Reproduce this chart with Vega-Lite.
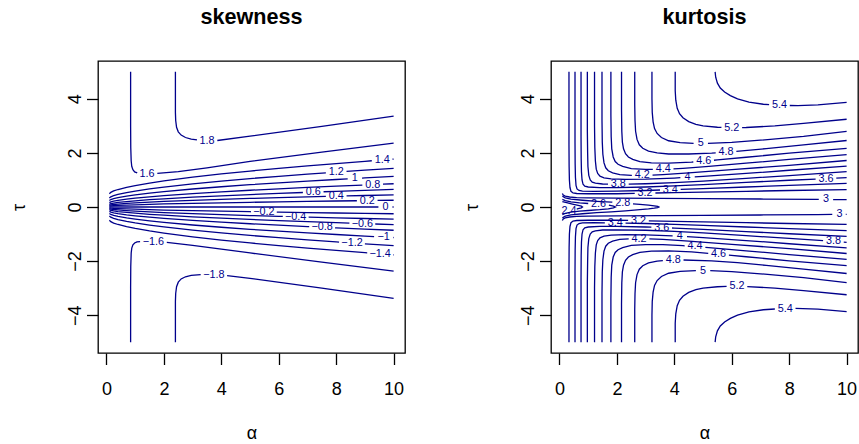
{
"$schema": "https://vega.github.io/schema/vega-lite/v6.json",
"background": "white",
"padding": {"left": 9, "top": 6, "right": 0, "bottom": 10},
"spacing": 146,
"bounds": "flush",
"config": {
"view": {"stroke": "black", "strokeWidth": 1.3},
"font": "Liberation Sans",
"axis": {"grid": false, "domain": false, "tickColor": "black", "tickSize": 11.5, "tickWidth": 1.3, "labelColor": "black", "labelFont": "Liberation Sans", "labelFontSize": 18, "titleFont": "Liberation Sans", "titleFontSize": 18, "titleFontWeight": "normal", "titleColor": "black", "labelOverlap": false, "labelFlush": false},
"axisX": {"labelPadding": 16, "titleY": 85, "titleBaseline": "alphabetic"},
"axisY": {"labelAngle": -90, "labelAlign": "center", "labelBaseline": "alphabetic", "labelPadding": 6, "titleAngle": -90, "titleX": -73.6, "titleBaseline": "alphabetic"},
"title": {"font": "Liberation Sans", "fontSize": 21.6, "fontWeight": "bold", "color": "black", "anchor": "middle", "frame": "group", "baseline": "alphabetic", "offset": 32.7}
},
"datasets": {
"sl": [
{"g":"p18a","a":2.4,"t":5},{"g":"p18a","a":2.4,"t":3.5},{"g":"p18a","a":2.41,"t":3.2},{"g":"p18a","a":2.44,"t":2.95},{"g":"p18a","a":2.5,"t":2.78},{"g":"p18a","a":2.6,"t":2.66},{"g":"p18a","a":2.75,"t":2.57},{"g":"p18a","a":2.95,"t":2.51},{"g":"p18a","a":3.15,"t":2.48},
{"g":"p18b","a":3.86,"t":2.46},{"g":"p18b","a":5,"t":2.62},{"g":"p18b","a":7.5,"t":2.98},{"g":"p18b","a":10,"t":3.36},
{"g":"n18a","a":2.4,"t":-5},{"g":"n18a","a":2.4,"t":-3.5},{"g":"n18a","a":2.41,"t":-3.2},{"g":"n18a","a":2.44,"t":-2.95},{"g":"n18a","a":2.5,"t":-2.78},{"g":"n18a","a":2.6,"t":-2.66},{"g":"n18a","a":2.75,"t":-2.58},{"g":"n18a","a":2.95,"t":-2.53},{"g":"n18a","a":3.28,"t":-2.5},
{"g":"n18b","a":4.2,"t":-2.54},{"g":"n18b","a":5,"t":-2.64},{"g":"n18b","a":7.5,"t":-3.0},{"g":"n18b","a":10,"t":-3.38},
{"g":"p16a","a":0.84,"t":5},{"g":"p16a","a":0.84,"t":3},{"g":"p16a","a":0.845,"t":2.2},{"g":"p16a","a":0.86,"t":1.7},{"g":"p16a","a":0.88,"t":1.5},{"g":"p16a","a":0.92,"t":1.38},{"g":"p16a","a":0.98,"t":1.3},{"g":"p16a","a":1.07,"t":1.26},
{"g":"p16b","a":1.77,"t":1.24},{"g":"p16b","a":2.5,"t":1.31},{"g":"p16b","a":3.5,"t":1.45},{"g":"p16b","a":5,"t":1.69},{"g":"p16b","a":7.5,"t":2.03},{"g":"p16b","a":10,"t":2.36},
{"g":"n16a","a":0.84,"t":-5},{"g":"n16a","a":0.84,"t":-3},{"g":"n16a","a":0.845,"t":-2.2},{"g":"n16a","a":0.86,"t":-1.7},{"g":"n16a","a":0.88,"t":-1.52},{"g":"n16a","a":0.92,"t":-1.4},{"g":"n16a","a":0.98,"t":-1.33},{"g":"n16a","a":1.06,"t":-1.29},{"g":"n16a","a":1.17,"t":-1.28},
{"g":"n16b","a":2.1,"t":-1.31},{"g":"n16b","a":3,"t":-1.42},{"g":"n16b","a":4,"t":-1.56},{"g":"n16b","a":5,"t":-1.7},{"g":"n16b","a":7.5,"t":-2.04},{"g":"n16b","a":10,"t":-2.37},
{"g":"p14a","a":0.1,"t":0.49},{"g":"p14a","a":0.15,"t":0.544},{"g":"p14a","a":0.25,"t":0.594},{"g":"p14a","a":0.4,"t":0.647},{"g":"p14a","a":0.7,"t":0.728},{"g":"p14a","a":1,"t":0.793},{"g":"p14a","a":1.5,"t":0.886},{"g":"p14a","a":2,"t":0.965},{"g":"p14a","a":3,"t":1.103},{"g":"p14a","a":4,"t":1.222},{"g":"p14a","a":5,"t":1.33},{"g":"p14a","a":6,"t":1.428},{"g":"p14a","a":7,"t":1.52},{"g":"p14a","a":8,"t":1.607},{"g":"p14a","a":9,"t":1.691},{"g":"p14a","a":9.24,"t":1.711},
{"g":"p14b","a":9.96,"t":1.767},{"g":"p14b","a":10,"t":1.77},
{"g":"n14a","a":0.1,"t":-0.49},{"g":"n14a","a":0.15,"t":-0.544},{"g":"n14a","a":0.25,"t":-0.594},{"g":"n14a","a":0.4,"t":-0.647},{"g":"n14a","a":0.7,"t":-0.728},{"g":"n14a","a":1,"t":-0.793},{"g":"n14a","a":1.5,"t":-0.886},{"g":"n14a","a":2,"t":-0.965},{"g":"n14a","a":3,"t":-1.103},{"g":"n14a","a":4,"t":-1.222},{"g":"n14a","a":5,"t":-1.33},{"g":"n14a","a":6,"t":-1.428},{"g":"n14a","a":7,"t":-1.52},{"g":"n14a","a":8,"t":-1.607},{"g":"n14a","a":9,"t":-1.691},{"g":"n14a","a":9.08,"t":-1.697},
{"g":"n14b","a":9.98,"t":-1.769},{"g":"n14b","a":10,"t":-1.77},
{"g":"p12a","a":0.1,"t":0.33},{"g":"p12a","a":0.15,"t":0.376},{"g":"p12a","a":0.25,"t":0.419},{"g":"p12a","a":0.4,"t":0.465},{"g":"p12a","a":0.7,"t":0.535},{"g":"p12a","a":1,"t":0.591},{"g":"p12a","a":1.5,"t":0.67},{"g":"p12a","a":2,"t":0.738},{"g":"p12a","a":3,"t":0.857},{"g":"p12a","a":4,"t":0.959},{"g":"p12a","a":5,"t":1.052},{"g":"p12a","a":6,"t":1.136},{"g":"p12a","a":7,"t":1.216},{"g":"p12a","a":7.64,"t":1.264},
{"g":"p12b","a":8.36,"t":1.317},{"g":"p12b","a":9,"t":1.362},{"g":"p12b","a":10,"t":1.43},
{"g":"n12a","a":0.1,"t":-0.33},{"g":"n12a","a":0.15,"t":-0.376},{"g":"n12a","a":0.25,"t":-0.419},{"g":"n12a","a":0.4,"t":-0.465},{"g":"n12a","a":0.7,"t":-0.535},{"g":"n12a","a":1,"t":-0.591},{"g":"n12a","a":1.5,"t":-0.67},{"g":"n12a","a":2,"t":-0.738},{"g":"n12a","a":3,"t":-0.857},{"g":"n12a","a":4,"t":-0.959},{"g":"n12a","a":5,"t":-1.052},{"g":"n12a","a":6,"t":-1.136},{"g":"n12a","a":7,"t":-1.216},{"g":"n12a","a":8,"t":-1.29},{"g":"n12a","a":8.1,"t":-1.298},
{"g":"n12b","a":9,"t":-1.362},{"g":"n12b","a":10,"t":-1.43},
{"g":"p10a","a":0.1,"t":0.24},{"g":"p10a","a":0.15,"t":0.277},{"g":"p10a","a":0.25,"t":0.312},{"g":"p10a","a":0.4,"t":0.349},{"g":"p10a","a":0.7,"t":0.406},{"g":"p10a","a":1,"t":0.451},{"g":"p10a","a":1.5,"t":0.515},{"g":"p10a","a":2,"t":0.57},{"g":"p10a","a":3,"t":0.666},{"g":"p10a","a":4,"t":0.749},{"g":"p10a","a":5,"t":0.824},{"g":"p10a","a":6,"t":0.892},{"g":"p10a","a":7,"t":0.956},{"g":"p10a","a":8,"t":1.017},{"g":"p10a","a":8.4,"t":1.041},
{"g":"p10b","a":8.9,"t":1.069},{"g":"p10b","a":9,"t":1.075},{"g":"p10b","a":10,"t":1.13},
{"g":"n10a","a":0.1,"t":-0.24},{"g":"n10a","a":0.15,"t":-0.277},{"g":"n10a","a":0.25,"t":-0.312},{"g":"n10a","a":0.4,"t":-0.349},{"g":"n10a","a":0.7,"t":-0.406},{"g":"n10a","a":1,"t":-0.451},{"g":"n10a","a":1.5,"t":-0.515},{"g":"n10a","a":2,"t":-0.57},{"g":"n10a","a":3,"t":-0.666},{"g":"n10a","a":4,"t":-0.749},{"g":"n10a","a":5,"t":-0.824},{"g":"n10a","a":6,"t":-0.892},{"g":"n10a","a":7,"t":-0.956},{"g":"n10a","a":8,"t":-1.017},{"g":"n10a","a":9,"t":-1.075},{"g":"n10a","a":9.32,"t":-1.093},
{"g":"n10b","a":9.98,"t":-1.128},{"g":"n10b","a":10,"t":-1.13},
{"g":"p08a","a":0.1,"t":0.16},{"g":"p08a","a":0.15,"t":0.189},{"g":"p08a","a":0.25,"t":0.217},{"g":"p08a","a":0.4,"t":0.246},{"g":"p08a","a":0.7,"t":0.29},{"g":"p08a","a":1,"t":0.326},{"g":"p08a","a":1.5,"t":0.376},{"g":"p08a","a":2,"t":0.42},{"g":"p08a","a":3,"t":0.495},{"g":"p08a","a":4,"t":0.56},{"g":"p08a","a":5,"t":0.619},{"g":"p08a","a":6,"t":0.673},{"g":"p08a","a":7,"t":0.724},{"g":"p08a","a":8,"t":0.771},{"g":"p08a","a":8.91,"t":0.812},
{"g":"p08b","a":9.63,"t":0.844},{"g":"p08b","a":10,"t":0.86},
{"g":"n08a","a":0.1,"t":-0.16},{"g":"n08a","a":0.15,"t":-0.189},{"g":"n08a","a":0.25,"t":-0.217},{"g":"n08a","a":0.4,"t":-0.246},{"g":"n08a","a":0.7,"t":-0.29},{"g":"n08a","a":1,"t":-0.326},{"g":"n08a","a":1.5,"t":-0.376},{"g":"n08a","a":2,"t":-0.42},{"g":"n08a","a":3,"t":-0.495},{"g":"n08a","a":4,"t":-0.56},{"g":"n08a","a":5,"t":-0.619},{"g":"n08a","a":6,"t":-0.673},{"g":"n08a","a":7,"t":-0.724},{"g":"n08a","a":7.06,"t":-0.726},
{"g":"n08b","a":7.96,"t":-0.77},{"g":"n08b","a":8,"t":-0.771},{"g":"n08b","a":9,"t":-0.817},{"g":"n08b","a":10,"t":-0.86},
{"g":"p06a","a":0.1,"t":0.1},{"g":"p06a","a":0.15,"t":0.123},{"g":"p06a","a":0.25,"t":0.145},{"g":"p06a","a":0.4,"t":0.168},{"g":"p06a","a":0.7,"t":0.202},{"g":"p06a","a":1,"t":0.23},{"g":"p06a","a":1.5,"t":0.27},{"g":"p06a","a":2,"t":0.304},{"g":"p06a","a":3,"t":0.363},{"g":"p06a","a":4,"t":0.415},{"g":"p06a","a":5,"t":0.461},{"g":"p06a","a":6,"t":0.503},{"g":"p06a","a":6.84,"t":0.537},
{"g":"p06b","a":7.56,"t":0.564},{"g":"p06b","a":8,"t":0.58},{"g":"p06b","a":9,"t":0.616},{"g":"p06b","a":10,"t":0.65},
{"g":"n06a","a":0.1,"t":-0.1},{"g":"n06a","a":0.15,"t":-0.123},{"g":"n06a","a":0.25,"t":-0.145},{"g":"n06a","a":0.4,"t":-0.168},{"g":"n06a","a":0.7,"t":-0.202},{"g":"n06a","a":1,"t":-0.23},{"g":"n06a","a":1.5,"t":-0.27},{"g":"n06a","a":2,"t":-0.304},{"g":"n06a","a":3,"t":-0.363},{"g":"n06a","a":4,"t":-0.415},{"g":"n06a","a":5,"t":-0.461},{"g":"n06a","a":6,"t":-0.503},{"g":"n06a","a":7,"t":-0.543},{"g":"n06a","a":8,"t":-0.58},{"g":"n06a","a":8.46,"t":-0.597},
{"g":"n06b","a":9.36,"t":-0.629},{"g":"n06b","a":10,"t":-0.65},
{"g":"p04a","a":0.1,"t":0.06},{"g":"p04a","a":0.15,"t":0.076},{"g":"p04a","a":0.25,"t":0.092},{"g":"p04a","a":0.4,"t":0.108},{"g":"p04a","a":0.7,"t":0.133},{"g":"p04a","a":1,"t":0.152},{"g":"p04a","a":1.5,"t":0.181},{"g":"p04a","a":2,"t":0.205},{"g":"p04a","a":3,"t":0.247},{"g":"p04a","a":4,"t":0.283},{"g":"p04a","a":5,"t":0.316},{"g":"p04a","a":6,"t":0.346},{"g":"p04a","a":7,"t":0.374},{"g":"p04a","a":7.64,"t":0.391},
{"g":"p04b","a":8.36,"t":0.41},{"g":"p04b","a":9,"t":0.426},{"g":"p04b","a":10,"t":0.45},
{"g":"n04a","a":0.1,"t":-0.06},{"g":"n04a","a":0.15,"t":-0.076},{"g":"n04a","a":0.25,"t":-0.092},{"g":"n04a","a":0.4,"t":-0.108},{"g":"n04a","a":0.7,"t":-0.133},{"g":"n04a","a":1,"t":-0.152},{"g":"n04a","a":1.5,"t":-0.181},{"g":"n04a","a":2,"t":-0.205},{"g":"n04a","a":3,"t":-0.247},{"g":"n04a","a":4,"t":-0.283},{"g":"n04a","a":5,"t":-0.316},{"g":"n04a","a":6,"t":-0.346},{"g":"n04a","a":6.14,"t":-0.35},
{"g":"n04b","a":7.04,"t":-0.375},{"g":"n04b","a":8,"t":-0.4},{"g":"n04b","a":9,"t":-0.426},{"g":"n04b","a":10,"t":-0.45},
{"g":"p02a","a":0.1,"t":0.03},{"g":"p02a","a":0.15,"t":0.039},{"g":"p02a","a":0.25,"t":0.048},{"g":"p02a","a":0.4,"t":0.057},{"g":"p02a","a":0.7,"t":0.071},{"g":"p02a","a":1,"t":0.082},{"g":"p02a","a":1.5,"t":0.098},{"g":"p02a","a":2,"t":0.112},{"g":"p02a","a":3,"t":0.135},{"g":"p02a","a":4,"t":0.156},{"g":"p02a","a":5,"t":0.174},{"g":"p02a","a":6,"t":0.191},{"g":"p02a","a":7,"t":0.207},{"g":"p02a","a":8,"t":0.222},{"g":"p02a","a":8.72,"t":0.232},
{"g":"p02b","a":9.44,"t":0.243},{"g":"p02b","a":10,"t":0.25},
{"g":"n02a","a":0.1,"t":-0.03},{"g":"n02a","a":0.15,"t":-0.039},{"g":"n02a","a":0.25,"t":-0.048},{"g":"n02a","a":0.4,"t":-0.057},{"g":"n02a","a":0.7,"t":-0.071},{"g":"n02a","a":1,"t":-0.082},{"g":"n02a","a":1.5,"t":-0.098},{"g":"n02a","a":2,"t":-0.112},{"g":"n02a","a":3,"t":-0.135},{"g":"n02a","a":4,"t":-0.156},{"g":"n02a","a":5,"t":-0.174},{"g":"n02a","a":5.03,"t":-0.175},
{"g":"n02b","a":5.93,"t":-0.19},{"g":"n02b","a":6,"t":-0.191},{"g":"n02b","a":7,"t":-0.207},{"g":"n02b","a":8,"t":-0.222},{"g":"n02b","a":9,"t":-0.236},{"g":"n02b","a":10,"t":-0.25},
{"g":"z0a","a":0.1,"t":0},{"g":"z0a","a":9.47,"t":0},
{"g":"z0b","a":9.96,"t":0},{"g":"z0b","a":10,"t":0}
],
"slab": [
{"l":"1.8","a":3.5,"t":2.45},{"l":"−1.8","a":3.74,"t":-2.51},
{"l":"1.6","a":1.41,"t":1.235},{"l":"−1.6","a":1.63,"t":-1.29},
{"l":"1.4","a":9.6,"t":1.739},{"l":"−1.4","a":9.53,"t":-1.735},
{"l":"1.2","a":8.0,"t":1.29},{"l":"−1.2","a":8.55,"t":-1.33},
{"l":"1","a":8.65,"t":1.055},{"l":"−1","a":9.65,"t":-1.111},
{"l":"0.8","a":9.27,"t":0.829},{"l":"−0.8","a":7.51,"t":-0.748},
{"l":"0.6","a":7.2,"t":0.55},{"l":"−0.6","a":8.91,"t":-0.613},
{"l":"0.4","a":8.0,"t":0.4},{"l":"−0.4","a":6.59,"t":-0.363},
{"l":"0.2","a":9.08,"t":0.237},{"l":"−0.2","a":5.48,"t":-0.182},
{"l":"0","a":9.72,"t":0}
],
"kl": [
{"g":"k54ta","a":5.42,"t":5},{"g":"k54ta","a":5.44,"t":4.8},{"g":"k54ta","a":5.5,"t":4.58},{"g":"k54ta","a":5.6,"t":4.4},{"g":"k54ta","a":5.75,"t":4.25},{"g":"k54ta","a":5.95,"t":4.12},{"g":"k54ta","a":6.2,"t":4.0},{"g":"k54ta","a":6.6,"t":3.88},{"g":"k54ta","a":7.1,"t":3.8},{"g":"k54ta","a":7.3,"t":3.787},
{"g":"k54tb","a":8.02,"t":3.755},{"g":"k54tb","a":8.3,"t":3.75},{"g":"k54tb","a":9,"t":3.78},{"g":"k54tb","a":10,"t":3.87},
{"g":"k54ba","a":5.42,"t":-5},{"g":"k54ba","a":5.44,"t":-4.8},{"g":"k54ba","a":5.5,"t":-4.58},{"g":"k54ba","a":5.6,"t":-4.4},{"g":"k54ba","a":5.75,"t":-4.25},{"g":"k54ba","a":5.95,"t":-4.12},{"g":"k54ba","a":6.2,"t":-4.0},{"g":"k54ba","a":6.6,"t":-3.88},{"g":"k54ba","a":7.1,"t":-3.8},{"g":"k54ba","a":7.5,"t":-3.773},
{"g":"k54bb","a":8.22,"t":-3.751},{"g":"k54bb","a":9,"t":-3.78},{"g":"k54bb","a":10,"t":-3.87},
{"g":"k52ta","a":4.03,"t":5},{"g":"k52ta","a":4.03,"t":4.3},{"g":"k52ta","a":4.05,"t":3.95},{"g":"k52ta","a":4.1,"t":3.65},{"g":"k52ta","a":4.18,"t":3.45},{"g":"k52ta","a":4.3,"t":3.3},{"g":"k52ta","a":4.5,"t":3.16},{"g":"k52ta","a":4.75,"t":3.06},{"g":"k52ta","a":5.0,"t":3.0},{"g":"k52ta","a":5.5,"t":2.95},{"g":"k52ta","a":5.64,"t":2.944},
{"g":"k52tb","a":6.36,"t":2.937},{"g":"k52tb","a":6.5,"t":2.94},{"g":"k52tb","a":7.5,"t":3.0},{"g":"k52tb","a":8.5,"t":3.09},{"g":"k52tb","a":10,"t":3.245},
{"g":"k52ba","a":4.03,"t":-5},{"g":"k52ba","a":4.03,"t":-4.3},{"g":"k52ba","a":4.05,"t":-3.95},{"g":"k52ba","a":4.1,"t":-3.65},{"g":"k52ba","a":4.18,"t":-3.45},{"g":"k52ba","a":4.3,"t":-3.3},{"g":"k52ba","a":4.5,"t":-3.16},{"g":"k52ba","a":4.75,"t":-3.06},{"g":"k52ba","a":5.0,"t":-3.0},{"g":"k52ba","a":5.5,"t":-2.95},{"g":"k52ba","a":5.82,"t":-2.937},
{"g":"k52bb","a":6.54,"t":-2.942},{"g":"k52bb","a":7.5,"t":-3.0},{"g":"k52bb","a":8.5,"t":-3.09},{"g":"k52bb","a":10,"t":-3.245},
{"g":"k50ta","a":3.22,"t":5},{"g":"k50ta","a":3.22,"t":4.0},{"g":"k50ta","a":3.23,"t":3.5},{"g":"k50ta","a":3.26,"t":3.15},{"g":"k50ta","a":3.31,"t":2.9},{"g":"k50ta","a":3.4,"t":2.72},{"g":"k50ta","a":3.55,"t":2.57},{"g":"k50ta","a":3.8,"t":2.45},{"g":"k50ta","a":4.2,"t":2.38},{"g":"k50ta","a":4.67,"t":2.352},
{"g":"k50tb","a":5.17,"t":2.35},{"g":"k50tb","a":6,"t":2.39},{"g":"k50tb","a":7,"t":2.47},{"g":"k50tb","a":8.5,"t":2.61},{"g":"k50tb","a":10,"t":2.795},
{"g":"k50ba","a":3.22,"t":-5},{"g":"k50ba","a":3.22,"t":-4.0},{"g":"k50ba","a":3.23,"t":-3.5},{"g":"k50ba","a":3.26,"t":-3.15},{"g":"k50ba","a":3.31,"t":-2.9},{"g":"k50ba","a":3.4,"t":-2.72},{"g":"k50ba","a":3.55,"t":-2.57},{"g":"k50ba","a":3.8,"t":-2.45},{"g":"k50ba","a":4.2,"t":-2.38},{"g":"k50ba","a":4.75,"t":-2.35},
{"g":"k50bb","a":5.25,"t":-2.352},{"g":"k50bb","a":6,"t":-2.39},{"g":"k50bb","a":7,"t":-2.47},{"g":"k50bb","a":8.5,"t":-2.61},{"g":"k50bb","a":10,"t":-2.795},
{"g":"k48ta","a":2.62,"t":5},{"g":"k48ta","a":2.62,"t":3.8},{"g":"k48ta","a":2.63,"t":3.2},{"g":"k48ta","a":2.65,"t":2.8},{"g":"k48ta","a":2.7,"t":2.5},{"g":"k48ta","a":2.78,"t":2.3},{"g":"k48ta","a":2.9,"t":2.17},{"g":"k48ta","a":3.1,"t":2.07},{"g":"k48ta","a":3.4,"t":2.0},{"g":"k48ta","a":3.8,"t":1.96},{"g":"k48ta","a":4.5,"t":1.96},{"g":"k48ta","a":5.3,"t":1.99},{"g":"k48ta","a":5.44,"t":2.0},
{"g":"k48tb","a":6.16,"t":2.057},{"g":"k48tb","a":7.2,"t":2.16},{"g":"k48tb","a":8.5,"t":2.3},{"g":"k48tb","a":10,"t":2.46},
{"g":"k48ba","a":2.62,"t":-5},{"g":"k48ba","a":2.62,"t":-3.8},{"g":"k48ba","a":2.63,"t":-3.2},{"g":"k48ba","a":2.65,"t":-2.8},{"g":"k48ba","a":2.7,"t":-2.5},{"g":"k48ba","a":2.78,"t":-2.3},{"g":"k48ba","a":2.9,"t":-2.17},{"g":"k48ba","a":3.1,"t":-2.07},{"g":"k48ba","a":3.4,"t":-2.0},{"g":"k48ba","a":3.6,"t":-1.98},
{"g":"k48bb","a":4.32,"t":-1.96},{"g":"k48bb","a":5.3,"t":-1.99},{"g":"k48bb","a":6.2,"t":-2.06},{"g":"k48bb","a":7.2,"t":-2.16},{"g":"k48bb","a":8.5,"t":-2.3},{"g":"k48bb","a":10,"t":-2.46},
{"g":"k46ta","a":2.16,"t":5},{"g":"k46ta","a":2.16,"t":3.6},{"g":"k46ta","a":2.17,"t":2.8},{"g":"k46ta","a":2.19,"t":2.4},{"g":"k46ta","a":2.23,"t":2.15},{"g":"k46ta","a":2.3,"t":1.97},{"g":"k46ta","a":2.4,"t":1.85},{"g":"k46ta","a":2.55,"t":1.76},{"g":"k46ta","a":2.8,"t":1.68},{"g":"k46ta","a":3.2,"t":1.63},{"g":"k46ta","a":3.8,"t":1.62},{"g":"k46ta","a":4.6,"t":1.66},{"g":"k46ta","a":4.66,"t":1.665},
{"g":"k46tb","a":5.38,"t":1.729},{"g":"k46tb","a":5.5,"t":1.74},{"g":"k46tb","a":6.5,"t":1.84},{"g":"k46tb","a":8,"t":1.99},{"g":"k46tb","a":10,"t":2.17},
{"g":"k46ba","a":2.16,"t":-5},{"g":"k46ba","a":2.16,"t":-3.6},{"g":"k46ba","a":2.17,"t":-2.8},{"g":"k46ba","a":2.19,"t":-2.4},{"g":"k46ba","a":2.23,"t":-2.15},{"g":"k46ba","a":2.3,"t":-1.97},{"g":"k46ba","a":2.4,"t":-1.85},{"g":"k46ba","a":2.55,"t":-1.76},{"g":"k46ba","a":2.8,"t":-1.68},{"g":"k46ba","a":3.2,"t":-1.63},{"g":"k46ba","a":3.8,"t":-1.62},{"g":"k46ba","a":4.6,"t":-1.66},{"g":"k46ba","a":5.18,"t":-1.712},
{"g":"k46bb","a":5.9,"t":-1.78},{"g":"k46bb","a":6.5,"t":-1.84},{"g":"k46bb","a":8,"t":-1.99},{"g":"k46bb","a":10,"t":-2.17},
{"g":"k44ta","a":1.79,"t":5},{"g":"k44ta","a":1.79,"t":3.4},{"g":"k44ta","a":1.8,"t":2.6},{"g":"k44ta","a":1.82,"t":2.15},{"g":"k44ta","a":1.87,"t":1.85},{"g":"k44ta","a":1.94,"t":1.68},{"g":"k44ta","a":2.04,"t":1.58},{"g":"k44ta","a":2.2,"t":1.5},{"g":"k44ta","a":2.5,"t":1.42},{"g":"k44ta","a":3.0,"t":1.39},{"g":"k44ta","a":3.25,"t":1.39},
{"g":"k44tb","a":3.97,"t":1.411},{"g":"k44tb","a":4.3,"t":1.43},{"g":"k44tb","a":5.2,"t":1.5},{"g":"k44tb","a":6.5,"t":1.62},{"g":"k44tb","a":8,"t":1.76},{"g":"k44tb","a":10,"t":1.94},
{"g":"k44ba","a":1.79,"t":-5},{"g":"k44ba","a":1.79,"t":-3.4},{"g":"k44ba","a":1.8,"t":-2.6},{"g":"k44ba","a":1.82,"t":-2.15},{"g":"k44ba","a":1.87,"t":-1.85},{"g":"k44ba","a":1.94,"t":-1.68},{"g":"k44ba","a":2.04,"t":-1.58},{"g":"k44ba","a":2.2,"t":-1.5},{"g":"k44ba","a":2.5,"t":-1.42},{"g":"k44ba","a":3.0,"t":-1.39},{"g":"k44ba","a":3.6,"t":-1.39},{"g":"k44ba","a":4.3,"t":-1.43},{"g":"k44ba","a":4.36,"t":-1.435},
{"g":"k44bb","a":5.08,"t":-1.49},{"g":"k44bb","a":5.2,"t":-1.5},{"g":"k44bb","a":6.5,"t":-1.62},{"g":"k44bb","a":8,"t":-1.76},{"g":"k44bb","a":10,"t":-1.94},
{"g":"k42ta","a":1.48,"t":5},{"g":"k42ta","a":1.48,"t":3.2},{"g":"k42ta","a":1.49,"t":2.4},{"g":"k42ta","a":1.51,"t":1.95},{"g":"k42ta","a":1.55,"t":1.63},{"g":"k42ta","a":1.61,"t":1.45},{"g":"k42ta","a":1.7,"t":1.34},{"g":"k42ta","a":1.85,"t":1.26},{"g":"k42ta","a":2.1,"t":1.2},{"g":"k42ta","a":2.5,"t":1.17},{"g":"k42ta","a":2.52,"t":1.17},
{"g":"k42tb","a":3.24,"t":1.182},{"g":"k42tb","a":3.6,"t":1.2},{"g":"k42tb","a":4.5,"t":1.26},{"g":"k42tb","a":6,"t":1.38},{"g":"k42tb","a":8,"t":1.54},{"g":"k42tb","a":10,"t":1.72},
{"g":"k42ba","a":1.48,"t":-5},{"g":"k42ba","a":1.48,"t":-3.2},{"g":"k42ba","a":1.49,"t":-2.4},{"g":"k42ba","a":1.51,"t":-1.95},{"g":"k42ba","a":1.55,"t":-1.63},{"g":"k42ba","a":1.61,"t":-1.45},{"g":"k42ba","a":1.7,"t":-1.34},{"g":"k42ba","a":1.85,"t":-1.26},{"g":"k42ba","a":2.1,"t":-1.2},{"g":"k42ba","a":2.41,"t":-1.177},
{"g":"k42bb","a":3.13,"t":-1.178},{"g":"k42bb","a":3.6,"t":-1.2},{"g":"k42bb","a":4.5,"t":-1.26},{"g":"k42bb","a":6,"t":-1.38},{"g":"k42bb","a":8,"t":-1.54},{"g":"k42bb","a":10,"t":-1.72},
{"g":"k40ta","a":1.22,"t":5},{"g":"k40ta","a":1.22,"t":3.0},{"g":"k40ta","a":1.23,"t":2.2},{"g":"k40ta","a":1.25,"t":1.7},{"g":"k40ta","a":1.28,"t":1.4},{"g":"k40ta","a":1.33,"t":1.24},{"g":"k40ta","a":1.41,"t":1.14},{"g":"k40ta","a":1.55,"t":1.08},{"g":"k40ta","a":1.8,"t":1.04},{"g":"k40ta","a":2.3,"t":1.02},{"g":"k40ta","a":3,"t":1.03},{"g":"k40ta","a":4,"t":1.07},{"g":"k40ta","a":4.21,"t":1.083},
{"g":"k40tb","a":4.71,"t":1.113},{"g":"k40tb","a":5,"t":1.13},{"g":"k40tb","a":6.5,"t":1.24},{"g":"k40tb","a":8,"t":1.36},{"g":"k40tb","a":10,"t":1.51},
{"g":"k40ba","a":1.22,"t":-5},{"g":"k40ba","a":1.22,"t":-3.0},{"g":"k40ba","a":1.23,"t":-2.2},{"g":"k40ba","a":1.25,"t":-1.7},{"g":"k40ba","a":1.28,"t":-1.4},{"g":"k40ba","a":1.33,"t":-1.24},{"g":"k40ba","a":1.41,"t":-1.14},{"g":"k40ba","a":1.55,"t":-1.08},{"g":"k40ba","a":1.8,"t":-1.04},{"g":"k40ba","a":2.3,"t":-1.02},{"g":"k40ba","a":3,"t":-1.03},{"g":"k40ba","a":3.94,"t":-1.068},
{"g":"k40bb","a":4.44,"t":-1.096},{"g":"k40bb","a":5,"t":-1.13},{"g":"k40bb","a":6.5,"t":-1.24},{"g":"k40bb","a":8,"t":-1.36},{"g":"k40bb","a":10,"t":-1.51},
{"g":"k38ta","a":0.97,"t":5},{"g":"k38ta","a":0.97,"t":2.8},{"g":"k38ta","a":0.98,"t":2.0},{"g":"k38ta","a":0.99,"t":1.5},{"g":"k38ta","a":1.02,"t":1.17},{"g":"k38ta","a":1.07,"t":1.0},{"g":"k38ta","a":1.14,"t":0.92},{"g":"k38ta","a":1.25,"t":0.88},{"g":"k38ta","a":1.5,"t":0.85},{"g":"k38ta","a":1.69,"t":0.846},
{"g":"k38tb","a":2.41,"t":0.848},{"g":"k38tb","a":3,"t":0.86},{"g":"k38tb","a":4,"t":0.9},{"g":"k38tb","a":5,"t":0.96},{"g":"k38tb","a":6.5,"t":1.06},{"g":"k38tb","a":8,"t":1.16},{"g":"k38tb","a":10,"t":1.305},
{"g":"k38ba","a":0.97,"t":-5},{"g":"k38ba","a":0.97,"t":-2.8},{"g":"k38ba","a":0.98,"t":-2.0},{"g":"k38ba","a":0.99,"t":-1.5},{"g":"k38ba","a":1.02,"t":-1.17},{"g":"k38ba","a":1.07,"t":-1.0},{"g":"k38ba","a":1.14,"t":-0.92},{"g":"k38ba","a":1.25,"t":-0.88},{"g":"k38ba","a":1.5,"t":-0.85},{"g":"k38ba","a":2,"t":-0.845},{"g":"k38ba","a":3,"t":-0.86},{"g":"k38ba","a":4,"t":-0.9},{"g":"k38ba","a":5,"t":-0.96},{"g":"k38ba","a":6.5,"t":-1.06},{"g":"k38ba","a":8,"t":-1.16},{"g":"k38ba","a":9.18,"t":-1.246},
{"g":"k38bb","a":9.9,"t":-1.298},{"g":"k38bb","a":10,"t":-1.305},
{"g":"k36ta","a":0.75,"t":5},{"g":"k36ta","a":0.75,"t":2.6},{"g":"k36ta","a":0.755,"t":1.8},{"g":"k36ta","a":0.765,"t":1.3},{"g":"k36ta","a":0.785,"t":1.0},{"g":"k36ta","a":0.82,"t":0.84},{"g":"k36ta","a":0.88,"t":0.77},{"g":"k36ta","a":1.0,"t":0.74},{"g":"k36ta","a":1.4,"t":0.72},{"g":"k36ta","a":2,"t":0.72},{"g":"k36ta","a":3,"t":0.74},{"g":"k36ta","a":4,"t":0.78},{"g":"k36ta","a":5,"t":0.83},{"g":"k36ta","a":6.5,"t":0.91},{"g":"k36ta","a":8,"t":0.99},{"g":"k36ta","a":8.92,"t":1.034},
{"g":"k36tb","a":9.64,"t":1.068},{"g":"k36tb","a":10,"t":1.085},
{"g":"k36ba","a":0.75,"t":-5},{"g":"k36ba","a":0.75,"t":-2.6},{"g":"k36ba","a":0.755,"t":-1.8},{"g":"k36ba","a":0.765,"t":-1.3},{"g":"k36ba","a":0.785,"t":-1.0},{"g":"k36ba","a":0.82,"t":-0.84},{"g":"k36ba","a":0.88,"t":-0.77},{"g":"k36ba","a":1.0,"t":-0.74},{"g":"k36ba","a":1.4,"t":-0.72},{"g":"k36ba","a":2,"t":-0.72},{"g":"k36ba","a":3,"t":-0.74},{"g":"k36ba","a":3.2,"t":-0.748},
{"g":"k36bb","a":3.92,"t":-0.777},{"g":"k36bb","a":4,"t":-0.78},{"g":"k36bb","a":5,"t":-0.83},{"g":"k36bb","a":6.5,"t":-0.91},{"g":"k36bb","a":8,"t":-0.99},{"g":"k36bb","a":10,"t":-1.085},
{"g":"k34ta","a":0.54,"t":5},{"g":"k34ta","a":0.54,"t":2.4},{"g":"k34ta","a":0.545,"t":1.6},{"g":"k34ta","a":0.555,"t":1.1},{"g":"k34ta","a":0.575,"t":0.8},{"g":"k34ta","a":0.61,"t":0.67},{"g":"k34ta","a":0.68,"t":0.61},{"g":"k34ta","a":0.8,"t":0.59},{"g":"k34ta","a":1.2,"t":0.58},{"g":"k34ta","a":2,"t":0.59},{"g":"k34ta","a":3,"t":0.61},{"g":"k34ta","a":3.5,"t":0.628},
{"g":"k34tb","a":4.22,"t":0.653},{"g":"k34tb","a":5,"t":0.68},{"g":"k34tb","a":6.5,"t":0.74},{"g":"k34tb","a":8,"t":0.8},{"g":"k34tb","a":10,"t":0.875},
{"g":"k34ba","a":0.54,"t":-5},{"g":"k34ba","a":0.54,"t":-2.4},{"g":"k34ba","a":0.545,"t":-1.6},{"g":"k34ba","a":0.555,"t":-1.1},{"g":"k34ba","a":0.575,"t":-0.8},{"g":"k34ba","a":0.61,"t":-0.67},{"g":"k34ba","a":0.68,"t":-0.61},{"g":"k34ba","a":0.8,"t":-0.59},{"g":"k34ba","a":1.2,"t":-0.58},{"g":"k34ba","a":1.58,"t":-0.585},
{"g":"k34bb","a":2.3,"t":-0.596},{"g":"k34bb","a":3,"t":-0.61},{"g":"k34bb","a":4,"t":-0.645},{"g":"k34bb","a":5,"t":-0.68},{"g":"k34bb","a":6.5,"t":-0.74},{"g":"k34bb","a":8,"t":-0.8},{"g":"k34bb","a":10,"t":-0.875},
{"g":"k32ta","a":0.33,"t":5},{"g":"k32ta","a":0.33,"t":2.3},{"g":"k32ta","a":0.335,"t":1.5},{"g":"k32ta","a":0.345,"t":1.0},{"g":"k32ta","a":0.365,"t":0.72},{"g":"k32ta","a":0.4,"t":0.58},{"g":"k32ta","a":0.47,"t":0.52},{"g":"k32ta","a":0.6,"t":0.5},{"g":"k32ta","a":1,"t":0.49},{"g":"k32ta","a":2,"t":0.49},{"g":"k32ta","a":2.62,"t":0.502},
{"g":"k32tb","a":3.34,"t":0.517},{"g":"k32tb","a":4,"t":0.53},{"g":"k32tb","a":5,"t":0.55},{"g":"k32tb","a":6.5,"t":0.58},{"g":"k32tb","a":8,"t":0.61},{"g":"k32tb","a":10,"t":0.645},
{"g":"k32ba","a":0.33,"t":-5},{"g":"k32ba","a":0.33,"t":-2.3},{"g":"k32ba","a":0.335,"t":-1.5},{"g":"k32ba","a":0.345,"t":-1.0},{"g":"k32ba","a":0.365,"t":-0.72},{"g":"k32ba","a":0.4,"t":-0.58},{"g":"k32ba","a":0.47,"t":-0.52},{"g":"k32ba","a":0.6,"t":-0.5},{"g":"k32ba","a":1,"t":-0.49},{"g":"k32ba","a":2,"t":-0.49},{"g":"k32ba","a":2.39,"t":-0.498},
{"g":"k32bb","a":3.11,"t":-0.512},{"g":"k32bb","a":4,"t":-0.53},{"g":"k32bb","a":5,"t":-0.55},{"g":"k32bb","a":6.5,"t":-0.58},{"g":"k32bb","a":8,"t":-0.61},{"g":"k32bb","a":10,"t":-0.645},
{"g":"k30ta","a":0.1,"t":0.5},{"g":"k30ta","a":0.13,"t":0.44},{"g":"k30ta","a":0.2,"t":0.4},{"g":"k30ta","a":0.35,"t":0.37},{"g":"k30ta","a":0.6,"t":0.35},{"g":"k30ta","a":1,"t":0.34},{"g":"k30ta","a":2,"t":0.33},{"g":"k30ta","a":3.5,"t":0.32},{"g":"k30ta","a":5,"t":0.31},{"g":"k30ta","a":7,"t":0.295},{"g":"k30ta","a":9,"t":0.28},{"g":"k30ta","a":9.03,"t":0.28},
{"g":"k30tb","a":9.53,"t":0.275},{"g":"k30tb","a":10,"t":0.27},
{"g":"k30ba","a":0.1,"t":-0.5},{"g":"k30ba","a":0.13,"t":-0.44},{"g":"k30ba","a":0.2,"t":-0.4},{"g":"k30ba","a":0.35,"t":-0.37},{"g":"k30ba","a":0.6,"t":-0.35},{"g":"k30ba","a":1,"t":-0.34},{"g":"k30ba","a":2,"t":-0.33},{"g":"k30ba","a":3.5,"t":-0.32},{"g":"k30ba","a":5,"t":-0.31},{"g":"k30ba","a":7,"t":-0.295},{"g":"k30ba","a":9,"t":-0.28},{"g":"k30ba","a":9.5,"t":-0.275},
{"g":"k30bb","a":9.97,"t":-0.27},{"g":"k30bb","a":10,"t":-0.27},
{"g":"k28a","a":0.1,"t":0.4},{"g":"k28a","a":0.2,"t":0.34},{"g":"k28a","a":0.4,"t":0.29},{"g":"k28a","a":0.8,"t":0.25},{"g":"k28a","a":1.3,"t":0.21},{"g":"k28a","a":1.8,"t":0.18},{"g":"k28a","a":1.84,"t":0.178},
{"g":"k28b","a":2.56,"t":0.118},{"g":"k28b","a":2.8,"t":0.1},{"g":"k28b","a":3.1,"t":0.07},{"g":"k28b","a":3.3,"t":0.045},{"g":"k28b","a":3.42,"t":0.02},{"g":"k28b","a":3.46,"t":0},{"g":"k28b","a":3.42,"t":-0.02},{"g":"k28b","a":3.3,"t":-0.045},{"g":"k28b","a":3.1,"t":-0.07},{"g":"k28b","a":2.8,"t":-0.1},{"g":"k28b","a":2.3,"t":-0.14},{"g":"k28b","a":1.8,"t":-0.18},{"g":"k28b","a":1.3,"t":-0.21},{"g":"k28b","a":0.8,"t":-0.25},{"g":"k28b","a":0.4,"t":-0.29},{"g":"k28b","a":0.2,"t":-0.34},{"g":"k28b","a":0.1,"t":-0.4},
{"g":"k26a","a":0.1,"t":0.28},{"g":"k26a","a":0.2,"t":0.24},{"g":"k26a","a":0.4,"t":0.19},{"g":"k26a","a":0.7,"t":0.155},{"g":"k26a","a":1.0,"t":0.13},
{"g":"k26b","a":1.72,"t":0.066},{"g":"k26b","a":1.88,"t":0.035},{"g":"k26b","a":1.95,"t":0},{"g":"k26b","a":1.88,"t":-0.035},{"g":"k26b","a":1.7,"t":-0.07},{"g":"k26b","a":1.4,"t":-0.1},{"g":"k26b","a":1.0,"t":-0.13},{"g":"k26b","a":0.7,"t":-0.155},{"g":"k26b","a":0.4,"t":-0.19},{"g":"k26b","a":0.2,"t":-0.24},{"g":"k26b","a":0.1,"t":-0.28},
{"g":"k24a","a":0.1,"t":0.2},{"g":"k24a","a":0.25,"t":0.16},{"g":"k24a","a":0.45,"t":0.11},{"g":"k24a","a":0.65,"t":0.06},{"g":"k24a","a":0.76,"t":0.03},{"g":"k24a","a":0.8,"t":0},{"g":"k24a","a":0.76,"t":-0.03},{"g":"k24a","a":0.65,"t":-0.06},{"g":"k24a","a":0.6,"t":-0.075}
],
"klab": [
{"l":"5.4","a":7.66,"t":3.77},{"l":"5.2","a":6.0,"t":2.93},{"l":"5","a":4.92,"t":2.35},{"l":"4.8","a":5.8,"t":2.03},{"l":"4.6","a":5.02,"t":1.7},{"l":"4.4","a":3.61,"t":1.39},{"l":"4.2","a":2.88,"t":1.17},{"l":"4","a":4.46,"t":1.1},{"l":"3.8","a":2.05,"t":0.845},{"l":"3.6","a":9.28,"t":1.05},{"l":"3.4","a":3.86,"t":0.64},{"l":"3.2","a":2.98,"t":0.51},{"l":"3","a":9.28,"t":0.278},{"l":"2.8","a":2.2,"t":0.148},{"l":"2.6","a":1.36,"t":0.1},
{"l":"5.4","a":7.86,"t":-3.76},{"l":"5.2","a":6.18,"t":-2.93},{"l":"5","a":5.0,"t":-2.35},{"l":"4.8","a":3.96,"t":-1.97},{"l":"4.6","a":5.54,"t":-1.745},{"l":"4.4","a":4.72,"t":-1.46},{"l":"4.2","a":2.77,"t":-1.17},{"l":"4","a":4.19,"t":-1.08},{"l":"3.8","a":9.54,"t":-1.27},{"l":"3.6","a":3.56,"t":-0.76},{"l":"3.4","a":1.94,"t":-0.59},{"l":"3.2","a":2.75,"t":-0.505},{"l":"3","a":9.75,"t":-0.273},{"l":"2.4","a":0.33,"t":-0.14}
]
},
"hconcat": [
{
"width": 307, "height": 292,
"title": "skewness",
"encoding": {
"x": {"field": "a", "type": "quantitative", "scale": {"domain": [-0.296, 10.396], "nice": false, "zero": false}, "axis": {"values": [0, 2, 4, 6, 8, 10], "title": "α"}},
"y": {"field": "t", "type": "quantitative", "scale": {"domain": [-5.4, 5.4], "nice": false, "zero": false}, "axis": {"values": [-4, -2, 0, 2, 4], "title": "τ"}}
},
"layer": [
{"data": {"name": "sl"}, "mark": {"type": "line", "color": "#00008B", "strokeWidth": 1.3}, "encoding": {"detail": {"field": "g"}, "order": {"value": null}}},
{"data": {"name": "slab"}, "mark": {"type": "text", "color": "#00008B", "fontSize": 10.8, "font": "Liberation Sans"}, "encoding": {"text": {"field": "l"}}}
]
},
{
"width": 307, "height": 292,
"title": "kurtosis",
"encoding": {
"x": {"field": "a", "type": "quantitative", "scale": {"domain": [-0.296, 10.396], "nice": false, "zero": false}, "axis": {"values": [0, 2, 4, 6, 8, 10], "title": "α"}},
"y": {"field": "t", "type": "quantitative", "scale": {"domain": [-5.4, 5.4], "nice": false, "zero": false}, "axis": {"values": [-4, -2, 0, 2, 4], "title": "τ"}}
},
"layer": [
{"data": {"name": "kl"}, "mark": {"type": "line", "color": "#00008B", "strokeWidth": 1.3}, "encoding": {"detail": {"field": "g"}, "order": {"value": null}}},
{"data": {"name": "klab"}, "mark": {"type": "text", "color": "#00008B", "fontSize": 10.8, "font": "Liberation Sans"}, "encoding": {"text": {"field": "l"}}}
]
}
]
}
